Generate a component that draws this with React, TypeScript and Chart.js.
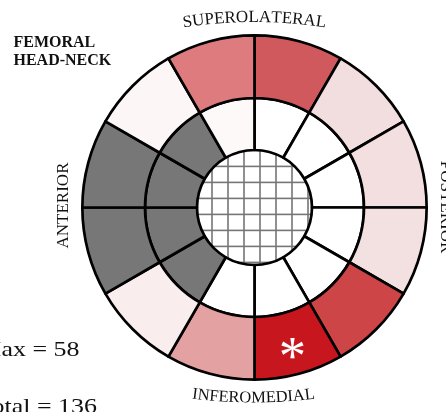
import React, { useEffect, useRef } from 'react';
import { Chart, registerables } from 'chart.js';

Chart.register(...registerables);

// 12 equal sectors, clockwise from the superior (12 o'clock) direction
const sectorNames = ['S1', 'S2', 'S3', 'S4', 'S5', 'S6', 'S7', 'S8', 'S9', 'S10', 'S11', 'S12'];
const outerRingValues = [1, 1, 1, 1, 1, 1, 1, 1, 1, 1, 1, 1];
const middleRingValues = [1, 1, 1, 1, 1, 1, 1, 1, 1, 1, 1, 1];
const centerValues = [1];

const outerRingColors = [
  '#CF595C', '#F3DEDF', '#F3DFE0', '#F3E0E1', '#CE4547', '#C7161D',
  '#E4A1A2', '#F9EDED', '#777777', '#777777', '#FCF6F6', '#DD7B7E',
];
const middleRingColors = [
  '#FFFFFF', '#FFFFFF', '#FFFFFF', '#FFFFFF', '#FFFFFF', '#FFFFFF',
  '#FFFFFF', '#777777', '#777777', '#777777', '#777777', '#FEF9F9',
];
const markedSectors = [5];

const topLabel = 'SUPEROLATERAL';
const bottomLabel = 'INFEROMEDIAL';
const leftLabel = 'ANTERIOR';
const rightLabel = 'POSTERIOR';
const titleLines = ['FEMORAL', 'HEAD-NECK'];
const statLines = ['Max = 58', 'Total = 136'];

const SERIF = '"Liberation Serif", "Times New Roman", serif';

// text along a gentle arc; baseY is the baseline at the middle of the text
function drawArcText(ctx: CanvasRenderingContext2D, text: string, cx: number, baseY: number, r: number, top: boolean) {
  const chars = Array.from(text);
  const widths = chars.map((c) => ctx.measureText(c).width);
  const total = widths.reduce((a, b) => a + b, 0);
  const span = total / r;
  const cy = top ? baseY + r : baseY - r;
  let acc = 0;
  chars.forEach((c, i) => {
    const w = widths[i];
    const off = (acc + w / 2) / r - span / 2;
    acc += w;
    const theta = top ? off : Math.PI - off;
    const x = cx + r * Math.sin(theta);
    const y = cy - r * Math.cos(theta);
    ctx.save();
    ctx.translate(x, y);
    ctx.rotate(top ? theta : theta - Math.PI);
    ctx.textAlign = 'center';
    ctx.textBaseline = 'alphabetic';
    ctx.fillText(c, 0, 0);
    ctx.restore();
  });
}

const labelsPlugin = {
  id: 'femoralLabels',
  afterDraw(chart: any) {
    const ctx: CanvasRenderingContext2D = chart.ctx;
    const meta = chart.getDatasetMeta(0);
    const a0 = meta.data[0] as any;
    const cx = a0.x;
    const cy = a0.y;
    ctx.save();
    ctx.fillStyle = '#111111';

    // curved labels
    ctx.font = `17px ${SERIF}`;
    drawArcText(ctx, topLabel, cx, 22, 470, true);
    ctx.font = `16.5px ${SERIF}`;
    drawArcText(ctx, bottomLabel, cx - 1, 402.5, 480, false);

    // rotated side labels
    ctx.font = `17px ${SERIF}`;
    ctx.textAlign = 'center';
    ctx.textBaseline = 'alphabetic';
    ctx.save();
    ctx.translate(68, 205.5);
    ctx.rotate(-Math.PI / 2);
    ctx.fillText(leftLabel, 0, 0);
    ctx.restore();
    ctx.save();
    ctx.translate(441, 207);
    ctx.rotate(Math.PI / 2);
    ctx.fillText(rightLabel, 0, 0);
    ctx.restore();

    // title
    ctx.font = `bold 16px ${SERIF}`;
    ctx.textAlign = 'left';
    ctx.fillText(titleLines[0], 13.5, 46.5);
    ctx.fillText(titleLines[1], 13.5, 65);

    // stats
    ctx.font = `22px ${SERIF}`;
    ctx.textAlign = 'right';
    const statRight = [79.5, 97];
    const statBase = [355.5, 413];
    statLines.forEach((s, i) => {
      ctx.save();
      ctx.translate(statRight[i], statBase[i]);
      ctx.scale(1.18, 1);
      ctx.fillText(s, 0, 0);
      ctx.restore();
    });

    // asterisk marks
    ctx.fillStyle = '#FFFFFF';
    ctx.textAlign = 'left';
    ctx.textBaseline = 'alphabetic';
    markedSectors.forEach((idx) => {
      const el = meta.data[idx] as any;
      const mid = (el.startAngle + el.endAngle) / 2;
      const rr = el.innerRadius + (el.outerRadius - el.innerRadius) * 0.58;
      const px = cx + rr * Math.cos(mid);
      const py = cy + rr * Math.sin(mid);
      ctx.font = `50px ${SERIF}`;
      const m0 = ctx.measureText('*');
      const w0 = m0.actualBoundingBoxLeft + m0.actualBoundingBoxRight;
      const size = 50 * (23 / (w0 || 23));
      ctx.font = `${size}px ${SERIF}`;
      const m = ctx.measureText('*');
      const bw = m.actualBoundingBoxLeft + m.actualBoundingBoxRight;
      const bh = m.actualBoundingBoxAscent + m.actualBoundingBoxDescent;
      const x0 = px - bw / 2 + m.actualBoundingBoxLeft;
      const y0 = py - bh / 2 + m.actualBoundingBoxAscent;
      ctx.fillText('*', x0, y0);
    });
    ctx.restore();
  },
};

function makeGridPattern(ctx: CanvasRenderingContext2D) {
  const c = document.createElement('canvas');
  c.width = 16;
  c.height = 16;
  const g = c.getContext('2d')!;
  g.fillStyle = '#FFFFFF';
  g.fillRect(0, 0, 16, 16);
  g.fillStyle = '#767676';
  g.fillRect(3.2, 0, 1.6, 16);
  g.fillRect(0, 5.6, 16, 1.6);
  return ctx.createPattern(c, 'repeat');
}

export default function App() {
  const ref = useRef<HTMLCanvasElement | null>(null);
  useEffect(() => {
    const canvas = ref.current!;
    const ctx = canvas.getContext('2d')!;
    const pattern = makeGridPattern(ctx);
    const chart = new Chart(canvas, {
      type: 'doughnut',
      data: {
        labels: sectorNames,
        datasets: [
          {
            data: outerRingValues,
            backgroundColor: outerRingColors,
            borderColor: '#000000',
            borderWidth: 2.7,
            hoverBorderWidth: 2.7,
            weight: 62.65,
          } as any,
          {
            data: middleRingValues,
            backgroundColor: middleRingColors,
            borderColor: '#000000',
            borderWidth: 2.7,
            hoverBorderWidth: 2.7,
            weight: 52,
          } as any,
          {
            data: centerValues,
            backgroundColor: pattern as any,
            borderWidth: 0,
            hoverBorderWidth: 0,
            weight: 57.5,
          } as any,
        ],
      },
      options: {
        responsive: false,
        animation: false,
        devicePixelRatio: 1,
        events: [],
        cutout: 0,
        rotation: 0,
        layout: { padding: { left: 81, right: 18, top: 34, bottom: 31 } },
        elements: { arc: { borderJoinStyle: 'round' } as any },
        plugins: { legend: { display: false }, tooltip: { enabled: false } },
      } as any,
      plugins: [labelsPlugin],
    });
    return () => chart.destroy();
  }, []);
  return (
    <div style={{ position: 'absolute', left: 0, top: 0, width: 446, height: 412, background: '#fff', overflow: 'hidden' }}>
      <canvas ref={ref} width={446} height={412} style={{ display: 'block', width: 446, height: 412 }} />
    </div>
  );
}
